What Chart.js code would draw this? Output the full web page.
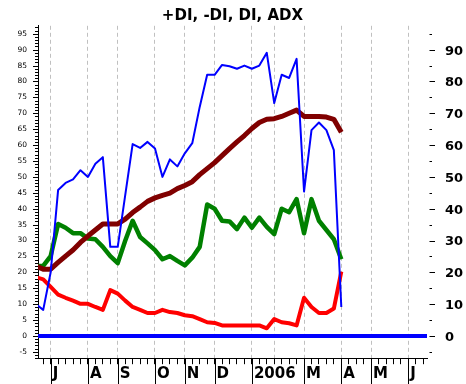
<!DOCTYPE html>
<html><head><meta charset="utf-8">
<script src="https://cdn.jsdelivr.net/npm/chart.js@4.4.1/dist/chart.umd.min.js"></script>
<style>html,body{margin:0;padding:0;background:#fff;}#wrap{width:466px;height:384px;}</style>
</head><body><div id="wrap"><canvas id="c" width="466" height="384"></canvas></div>
<script>
const titleText = '+DI, -DI, DI, ADX';
// week index (0 = first week of July 2005)
const weeks = [-2,-1,0,1,2,3,4,5,6,7,8,9,10,11,12,13,14,15,16,17,18,19,20,21,22,23,24,25,26,27,28,29,30,31,32,33,34,35,36,37,38,39];
const plusDI = [10,8.2,20,45.9,48.1,49.2,52.1,50.0,54.1,56.2,28.0,28.0,44.2,60.3,59.1,61.0,58.9,50.0,55.5,53.3,57.4,60.6,72,82.1,82.1,85.2,84.8,84.0,85.0,84.0,85.0,89.0,73.2,82.1,81.1,87.1,45.4,64.7,67.1,64.7,58.4,9.1];
const minusDI = [18.5,17.8,15.4,13.0,12.0,11.1,10.1,10.1,9.1,8.2,14.4,13.3,11.1,9.1,8.2,7.2,7.2,8.2,7.5,7.2,6.5,6.2,5.3,4.3,4.1,3.3,3.3,3.3,3.3,3.3,3.3,2.4,5.3,4.3,4.0,3.3,12.0,9.1,7.2,7.2,8.6,20.2];
const diValues = [22,22.0,25.1,35.2,34.0,32.3,32.3,30.6,30.4,28.0,25.1,22.9,29.9,36.2,31.1,29.1,27.0,24.1,25.1,23.6,22.2,24.6,28.0,41.3,40.0,36.2,36.0,33.6,37.2,34.0,37.2,34.3,32.0,40.0,38.9,43.0,32.3,43.0,36.2,33.3,30.4,24.1];
const adx = [22,21.0,21.0,23.1,25.1,27.0,29.4,31.4,33.3,35.2,35.2,35.2,36.7,38.8,40.5,42.3,43.4,44.2,44.9,46.3,47.3,48.5,50.7,52.6,54.5,56.7,58.9,61.0,63.0,65.2,67.1,68.1,68.3,69.0,70.0,71.0,69.0,69.0,69.0,68.8,68.1,64.0];
// month starts (week index) and their labels
const monthStartWeeks = [0,5,9,14,18,22,27,30,34,39,43,48];
const monthLabels = ['J','A','S','O','N','D','2006','','M','A','M','J'];
const leftTicks = [-5,0,5,10,15,20,25,30,35,40,45,50,55,60,65,70,75,80,85,90,95];
const rightTicks = [0,10,20,30,40,50,60,70,80,90];
const yMin = -7, yMax = 97.5, xMin = -1.7, xMax = 50.5;

const weekTicks = []; for (let w = -1; w <= 50; w++) weekTicks.push(w);
const zeroWeeks = []; for (let w = -2; w <= 51; w++) zeroWeeks.push(w);

const pts = arr => weeks.map((w, i) => ({x: w, y: arr[i]}));

const decor = {
  id: 'decor',
  afterDraw(chart) {
    const {ctx, chartArea: a, scales: {x, y, y2}} = chart;
    ctx.save();
    ctx.strokeStyle = '#000'; ctx.lineWidth = 1;
    for (let v = -7; v <= 97; v++) {
      const py = Math.round(y.getPixelForValue(v)) + 0.5;
      const len = v % 5 === 0 ? 5 : 3;
      ctx.beginPath(); ctx.moveTo(a.left - len, py); ctx.lineTo(a.left, py); ctx.stroke();
    }
    for (let v = -5; v <= 95; v += 5) {
      const py = Math.round(y2.getPixelForValue(v)) + 0.5;
      const major = v % 10 === 0;
      ctx.beginPath(); ctx.moveTo(a.right + 2.5, py); ctx.lineTo(a.right + (major ? 8 : 5), py); ctx.stroke();
    }
    monthStartWeeks.forEach((w, i) => {
      if (!monthLabels[i]) return;
      const px = Math.round(x.getPixelForValue(w)) + 0.5;
      ctx.beginPath(); ctx.moveTo(px, a.bottom); ctx.lineTo(px, chart.height); ctx.stroke();
    });
    ctx.fillStyle = '#000';
    ctx.font = 'bold 15px "DejaVu Sans"';
    ctx.textAlign = 'center'; ctx.textBaseline = 'alphabetic';
    ctx.fillText(titleText, (a.left + a.right) / 2, 19.5);
    ctx.restore();
  }
};

new Chart(document.getElementById('c'), {
  type: 'line',
  data: {
    datasets: [
      {label: '+DI', data: pts(plusDI), borderColor: '#0000ff', borderWidth: 2, order: 0},
      {label: 'ADX', data: pts(adx), borderColor: '#800000', borderWidth: 5, order: 1},
      {label: 'DI', data: pts(diValues), borderColor: '#008000', borderWidth: 4.5, order: 2},
      {label: '-DI', data: pts(minusDI), borderColor: '#ff0000', borderWidth: 4, order: 3},
      {label: 'zero', data: zeroWeeks.map(w => ({x: w, y: 0})), borderColor: '#0000ff', borderWidth: 4, order: 4}
    ]
  },
  options: {
    responsive: false,
    animation: false,
    layout: {padding: 0},
    plugins: {legend: {display: false}, tooltip: {enabled: false}, title: {display: false}},
    elements: {point: {radius: 0}, line: {tension: 0, borderJoinStyle: 'round', fill: false}},
    scales: {
      x: {
        type: 'linear', position: 'bottom', min: xMin, max: xMax,
        afterBuildTicks: s => { s.ticks = weekTicks.map(v => ({value: v})); },
        afterFit: s => { s.height = 24; },
        grid: {
          drawOnChartArea: true, drawTicks: true, tickLength: 6, tickColor: '#000', tickWidth: 1, lineWidth: 1,
          color: c => (c.tick && monthStartWeeks.includes(c.tick.value)) ? '#c0c0c0' : 'rgba(0,0,0,0)'
        },
        border: {display: true, color: '#000', width: 1, dash: [4, 3]},
        ticks: {
          autoSkip: false, maxRotation: 0, minRotation: 0, align: 'start', labelOffset: 2, padding: 1,
          color: '#000', font: {family: 'DejaVu Sans', size: 15, weight: 'bold'},
          callback: v => { const i = monthStartWeeks.indexOf(v); return i >= 0 ? monthLabels[i] : ''; }
        }
      },
      y: {
        type: 'linear', position: 'left', min: yMin, max: yMax,
        afterBuildTicks: s => { s.ticks = leftTicks.map(v => ({value: v})); },
        afterFit: s => { s.width = 38; },
        grid: {drawOnChartArea: false, drawTicks: false},
        border: {display: true, color: '#000', width: 1},
        ticks: {padding: 11, color: '#000', font: {family: 'DejaVu Sans', size: 7.5}, callback: v => String(v)}
      },
      y2: {
        type: 'linear', position: 'right', min: yMin, max: yMax,
        afterBuildTicks: s => { s.ticks = rightTicks.map(v => ({value: v})); },
        afterFit: s => { s.width = 39; },
        grid: {drawOnChartArea: false, drawTicks: false},
        border: {display: false},
        ticks: {padding: 18, labelOffset: 1.5, color: '#000', font: {family: 'DejaVu Sans', size: 13, weight: 'bold'}, callback: v => String(v)}
      }
    }
  },
  plugins: [decor]
});
</script></body></html>
